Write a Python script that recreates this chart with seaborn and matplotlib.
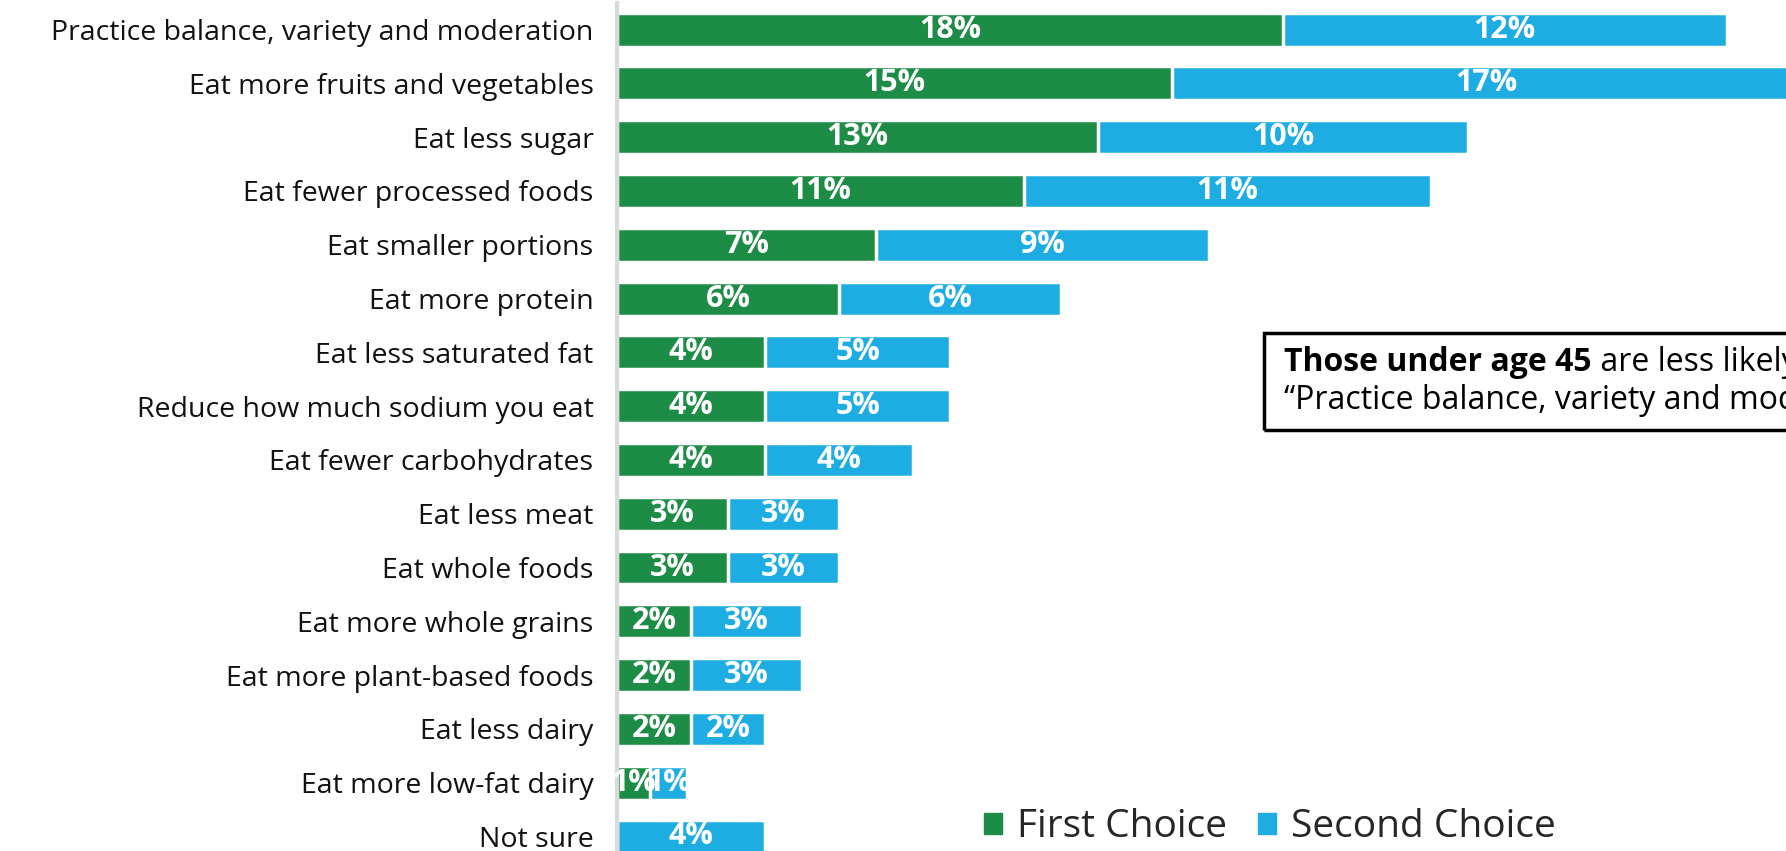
import numpy as np
import pandas as pd
import matplotlib
matplotlib.use('Agg')
import matplotlib.pyplot as plt
import seaborn as sns
from matplotlib.patches import Patch, Rectangle

# Data (percent)
categories = [
    'Practice balance, variety and moderation',
    'Eat more fruits and vegetables',
    'Eat less sugar',
    'Eat fewer processed foods',
    'Eat smaller portions',
    'Eat more protein',
    'Eat less saturated fat',
    'Reduce how much sodium you eat',
    'Eat fewer carbohydrates',
    'Eat less meat',
    'Eat whole foods',
    'Eat more whole grains',
    'Eat more plant-based foods',
    'Eat less dairy',
    'Eat more low-fat dairy',
    'Not sure',
]
first_choice = [18, 15, 13, 11, 7, 6, 4, 4, 4, 3, 3, 2, 2, 2, 0.9, 0]
second_choice = [12, 17, 10, 11, 9, 6, 5, 5, 4, 3, 3, 3, 3, 2, 1, 4]
first_labels = ['18%', '15%', '13%', '11%', '7%', '6%', '4%', '4%', '4%',
                '3%', '3%', '2%', '2%', '2%', '1%', '']
second_labels = ['12%', '17%', '10%', '11%', '9%', '6%', '5%', '5%', '4%',
                 '3%', '3%', '3%', '3%', '2%', '1%', '4%']

GREEN = '#1D8C46'
BLUE = '#1EADE3'

sns.set_theme(style='white')
plt.rcParams['font.family'] = ['Open Sans', 'DejaVu Sans']

df = pd.DataFrame({'category': categories,
                   'first': first_choice,
                   'second': second_choice})
df['total'] = df['first'] + df['second']

fig = plt.figure(figsize=(17.86, 8.51), dpi=100)
ax = fig.add_axes([0.3455, 0.0, 0.6545, 0.9968])

# stacked: total in blue behind, first choice in green on top
sns.barplot(data=df, y='category', x='total', color=BLUE, orient='h',
            width=0.63, edgecolor='white', linewidth=2.5, saturation=1, ax=ax)
sns.barplot(data=df, y='category', x='first', color=GREEN, orient='h',
            width=0.63, edgecolor='white', linewidth=2.5, saturation=1, ax=ax)

for i in range(len(categories)):
    f, s = first_choice[i], second_choice[i]
    if first_labels[i]:
        ax.text(f / 2, i, first_labels[i], ha='center', va='center',
                color='white', fontsize=22, fontweight='bold')
    ax.text(f + s / 2, i, second_labels[i], ha='center', va='center',
            color='white', fontsize=22, fontweight='bold')

ax.set_xlim(0, 31.6)
ax.set_ylim(15.27, -0.5)
ax.set_xlabel('')
ax.set_ylabel('')
ax.set_xticks([])
ax.tick_params(axis='y', length=0, pad=17, labelsize=20.5, labelcolor='#111111')
for side in ['top', 'right', 'bottom']:
    ax.spines[side].set_visible(False)
ax.spines['left'].set_color('#d9d9d9')
ax.spines['left'].set_linewidth(3)

# callout box (runs off the right edge like the original)
fig.patches.append(Rectangle((1264 / 1786, 1 - 430 / 851), 0.5, 97 / 851,
                             transform=fig.transFigure, fill=False,
                             edgecolor='black', linewidth=2.5, zorder=5))
t1 = fig.text(1284 / 1786, 1 - 362 / 851, 'Those under age 45', fontsize=23,
              fontweight='bold', va='center', ha='left', color='black')
ax.annotate(' are less likely to choose', xy=(1, 0.5), xycoords=t1,
            va='center', ha='left', fontsize=23, color='black',
            annotation_clip=False)
fig.text(1284 / 1786, 1 - 401 / 851,
         '\u201cPractice balance, variety and moderation\u201d', fontsize=23,
         va='center', ha='left', color='black')

handles = [Patch(color=GREEN, label='First Choice'),
           Patch(color=BLUE, label='Second Choice')]
fig.legend(handles=handles, loc='center', bbox_to_anchor=(1270 / 1786, 1 - 827 / 851),
           ncol=2, frameon=False, fontsize=28, handlelength=0.45, handleheight=0.45,
           handletextpad=0.4, columnspacing=0.8)

plt.savefig('out.png', dpi=100)
